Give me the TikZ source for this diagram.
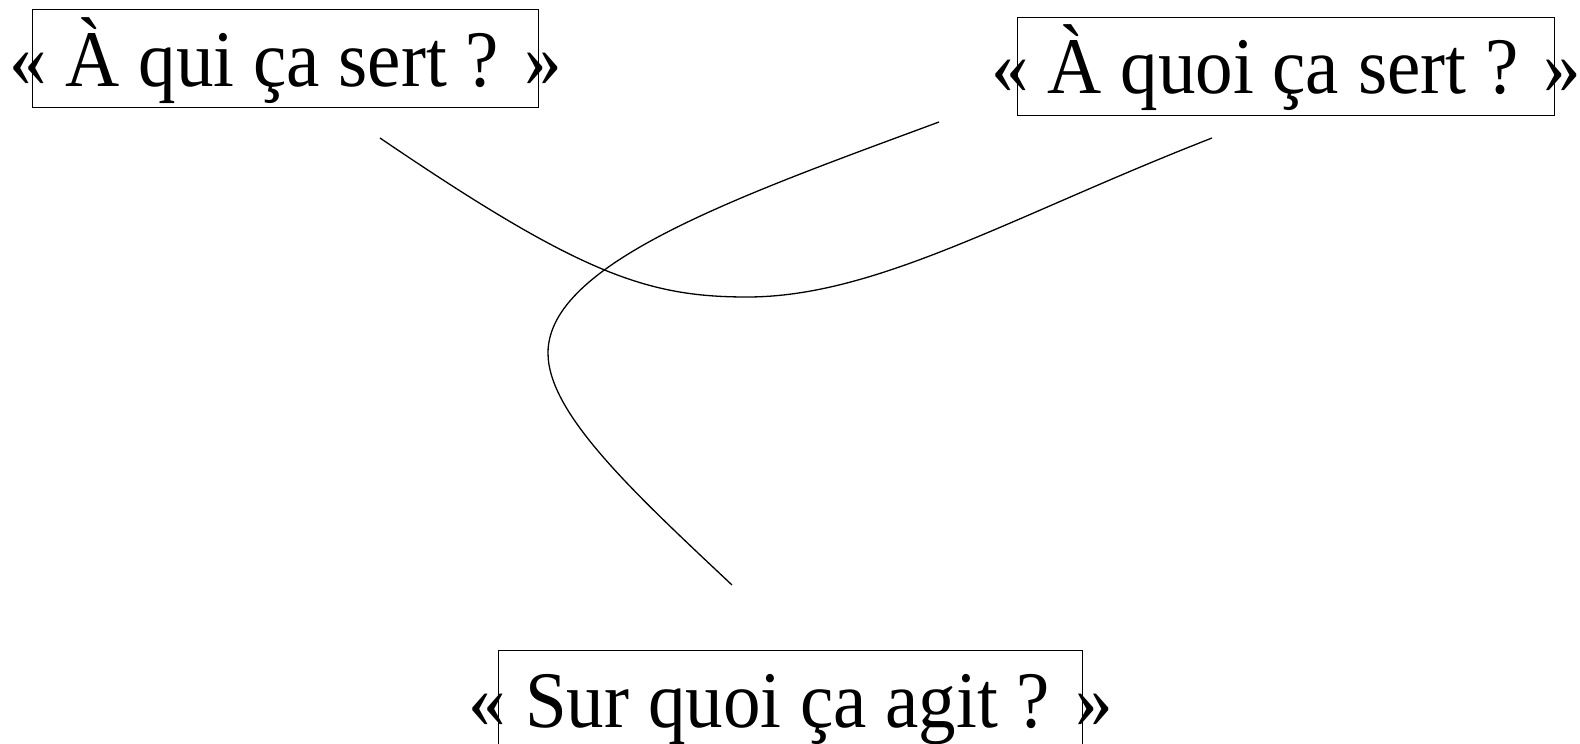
\documentclass[tikz,border=0pt]{standalone}
\usepackage{fontspec}
\setmainfont{Liberation Serif}
\newcommand{\qtext}[2]{\makebox[#1]{\scalebox{1}[1.07]{#2}}}
\begin{document}
\begin{tikzpicture}[x=1pt,y=-1pt,
  qbox/.style={draw, line width=1.4pt, inner sep=0pt, anchor=north west,
    text height=77pt, text depth=21pt, font=\fontsize{75}{90}\selectfont},
  curve/.style={line width=1.3pt}]
\useasboundingbox (0,0) rectangle (1580,744);
\node[qbox] (qui) at (32,9) {\qtext{506pt}{« À qui ça sert ? »}};
\node[qbox, text height=76pt, text depth=22pt] (quoi) at (1017,17) {\qtext{537pt}{« À quoi ça sert ? »}};
\node[qbox] (agit) at (498,650) {\qtext{584pt}{« Sur quoi ça agit ? »}};
\coordinate (a1) at (380,138);
\coordinate (am) at (747,297);
\coordinate (a2) at (1212,138);
\coordinate (b1) at (939,122);
\coordinate (bm) at (548,353);
\coordinate (b2) at (732,585);
\draw[curve] (a1) .. controls (580,274) and (647,297) .. (am)
  .. controls (877,297) and (1012,216) .. (a2);
\draw[curve] (b1) .. controls (739,196) and (548,263) .. (bm)
  .. controls (548,413) and (632,491) .. (b2);
\end{tikzpicture}
\end{document}
